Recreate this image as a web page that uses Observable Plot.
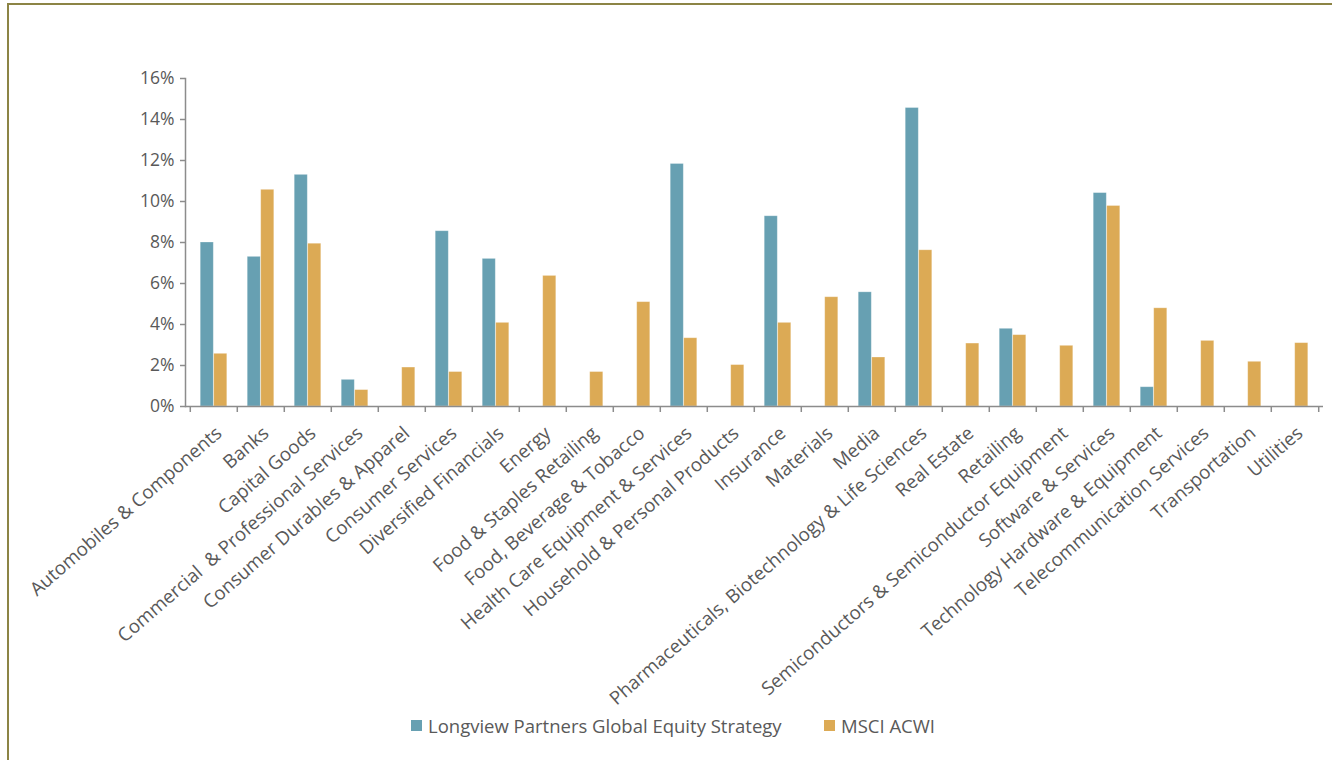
<!DOCTYPE html>
<html>
<head>
<meta charset="utf-8">
<script src="https://cdn.jsdelivr.net/npm/d3@7"></script>
<script src="https://cdn.jsdelivr.net/npm/@observablehq/plot@0.6"></script>
<style>
  html, body { margin: 0; padding: 0; background: #fff; }
  body { width: 1332px; height: 760px; overflow: hidden; position: relative; font-family: "Open Sans", sans-serif; }
  #frame { position: absolute; left: 7px; top: 3px; width: 1330px; height: 800px; border-left: 2px solid #8c8445; border-top: 2px solid #8c8445; border-right: 2px solid #8c8445; box-sizing: border-box; }
  #chart { position: absolute; left: 0; top: 0; }
  #chart g[aria-label="y-axis tick label"] text { font-size: 17.5px; }
  #chart g[aria-label="x-axis tick label"] text { font-size: 18.8px; }
  #legend { position: absolute; top: 713px; left: 0; width: 1332px; height: 24px; font-size: 18.5px; color: #595959; }
  .item { position: absolute; top: 0; display: flex; align-items: center; height: 24px; white-space: nowrap; }
  .sw { width: 11px; height: 11px; margin-right: 6px; }
</style>
</head>
<body>
<div id="frame"></div>
<div id="chart"></div>
<div id="legend"></div>
<script>
const categories = [
  "Automobiles & Components", "Banks", "Capital Goods", "Commercial  & Professional Services",
  "Consumer Durables & Apparel", "Consumer Services", "Diversified Financials", "Energy",
  "Food & Staples Retailing", "Food, Beverage & Tobacco", "Health Care Equipment & Services",
  "Household & Personal Products", "Insurance", "Materials", "Media",
  "Pharmaceuticals, Biotechnology & Life Sciences", "Real Estate", "Retailing",
  "Semiconductors & Semiconductor Equipment", "Software & Services",
  "Technology Hardware & Equipment", "Telecommunication Services", "Transportation", "Utilities"
];
const seriesNames = ["Longview Partners Global Equity Strategy", "MSCI ACWI"];
const longview = [8.0, 7.3, 11.3, 1.3, 0, 8.55, 7.2, 0, 0, 0, 11.83, 0, 9.28, 0, 5.57, 14.56, 0, 3.79, 0, 10.41, 0.94, 0, 0, 0];
const msci = [2.57, 10.57, 7.94, 0.8, 1.9, 1.68, 4.08, 6.37, 1.68, 5.09, 3.33, 2.02, 4.08, 5.33, 2.39, 7.62, 3.07, 3.48, 2.96, 9.78, 4.79, 3.2, 2.18, 3.09];
const yTicks = [0, 2, 4, 6, 8, 10, 12, 14, 16];
const colors = ["#67a0b2", "#dcaa55"];

const W = 1332, H = 760;
const mL = 185, mR = 9, mT = 78, mB = H - 406;
const bw = (W - mL - mR) / categories.length;
const barW = 13.5;
const pad = (bw - 2 * barW) / 2;

const rowsA = categories.map((c, i) => ({cat: c, v: longview[i]})).filter(d => d.v > 0);
const rowsB = categories.map((c, i) => ({cat: c, v: msci[i]}));

const axisColor = "#8c8c8c";
const textColor = "#595959";

const plot = Plot.plot({
  width: W, height: H,
  marginLeft: mL, marginRight: mR, marginTop: mT, marginBottom: mB,
  style: {fontFamily: "'Open Sans', sans-serif", fontSize: "17.5px", color: textColor, background: "transparent"},
  x: {domain: categories, padding: 0, align: 0.5},
  y: {domain: [0, 16]},
  marks: [
    Plot.barY(rowsA, {x: "cat", y: "v", fill: colors[0], insetLeft: pad, insetRight: pad + barW, stroke: "#ffffff", strokeOpacity: 0.35, strokeWidth: 0.8}),
    Plot.barY(rowsB, {x: "cat", y: "v", fill: colors[1], insetLeft: pad + barW, insetRight: pad, stroke: "#ffffff", strokeOpacity: 0.35, strokeWidth: 0.8}),
    Plot.ruleY([0], {stroke: axisColor, strokeWidth: 1.5}),
    Plot.frame({anchor: "left", stroke: axisColor, strokeWidth: 1.5}),
    Plot.axisY({ticks: yTicks, tickFormat: d => d + "%", tickSize: 5, tickPadding: 6, stroke: axisColor, strokeWidth: 1.5, fill: textColor, label: null}),
    Plot.axisX({tickSize: 6, dx: -bw / 2, tickFormat: null, stroke: axisColor, strokeWidth: 1.5, label: null}),
    Plot.axisX({ticks: [categories[categories.length - 1]], tickSize: 6, dx: bw / 2, tickFormat: null, stroke: axisColor, strokeWidth: 1.5, label: null}),
    Plot.axisX({tickSize: 0, tickRotate: -41, tickPadding: 24, dx: 5, fill: textColor, label: null})
  ]
});
document.getElementById("chart").appendChild(plot);

const legend = document.getElementById("legend");
const lefts = [411, 824];
seriesNames.forEach((name, i) => {
  const it = document.createElement("div");
  it.className = "item";
  it.style.left = lefts[i] + "px";
  it.innerHTML = `<div class="sw" style="background:${colors[i]}"></div><span>${name}</span>`;
  legend.appendChild(it);
});
</script>
</body>
</html>
